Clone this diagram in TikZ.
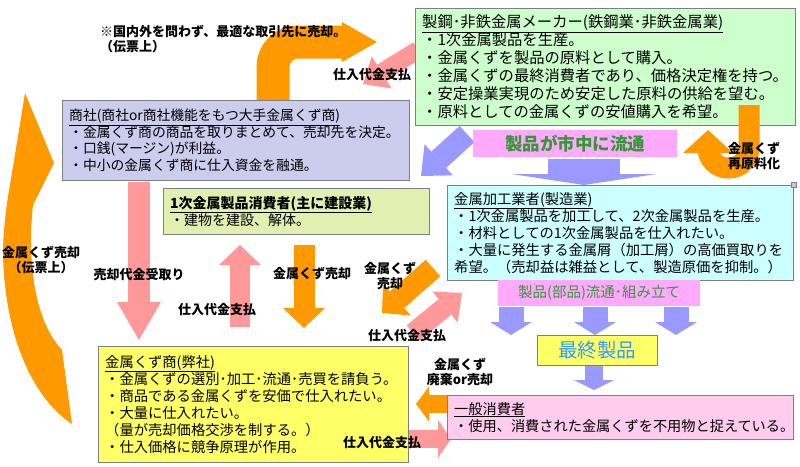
\documentclass[tikz,border=0pt]{standalone}
\usepackage{fontspec}
\setmainfont{Noto Sans CJK JP}
\usetikzlibrary{arrows.meta}

\definecolor{orng}{HTML}{FF9900}
\definecolor{pinkarr}{HTML}{FF9999}
\definecolor{lavarr}{HTML}{9999FF}
\definecolor{makerfill}{HTML}{CCFFCC}
\definecolor{shoshafill}{HTML}{CCCCEE}
\definecolor{kenfill}{HTML}{E2EFB0}
\definecolor{kakofill}{HTML}{CCFFFF}
\definecolor{yelfill}{HTML}{FFFF66}
\definecolor{ippanfill}{HTML}{FFCCEE}
\definecolor{bandfill}{HTML}{FFAAFF}
\definecolor{bandtext}{HTML}{339933}
\definecolor{bluetext}{HTML}{3399FF}
\definecolor{boxline}{HTML}{7F7F7F}

\tikzset{
  box/.style={draw=boxline, anchor=north west, align=left, inner xsep=7pt, inner ysep=2pt},
  band/.style={fill=bandfill, anchor=north west, inner sep=0pt, text=bandtext},
  lbl/.style={font=\bfseries\fontsize{13}{15}\selectfont, align=center, inner sep=0pt},
  blk/.style n args={3}{line width=#1, -{Triangle[width=#2,length=#3,line width=0pt]}},
}

\begin{document}
\begin{tikzpicture}[x=1pt,y=-1pt]
\useasboundingbox (0,0) rectangle (800,466);

% arrow ends
\coordinate (a1s) at (273,100);
\coordinate (a1e) at (377,42);
\coordinate (a2s) at (418,50);
\coordinate (a2e) at (363,84);
\coordinate (a3s) at (467,134);
\coordinate (a3e) at (421,176);
\coordinate (a4s) at (584,159);
\coordinate (a4e) at (584,185);
\coordinate (a7s) at (139,182);
\coordinate (a7e) at (139,340);
\coordinate (a8s) at (240,327);
\coordinate (a8e) at (240,245);
\coordinate (a9s) at (304,245);
\coordinate (a9e) at (304,328);
\coordinate (a10s) at (433,268);
\coordinate (a10e) at (382,313);
\coordinate (a11s) at (413,333);
\coordinate (a11e) at (462,293);
\coordinate (a13s) at (594,366);
\coordinate (a13e) at (594,390);
\coordinate (a14s) at (448,404);
\coordinate (a14e) at (416,404);
\coordinate (a15s) at (409,439);
\coordinate (a15e) at (451,439);

% big curved arrow on the left
\fill[orng] (25,93) -- (54,163) -- (33,205) .. controls (27,260) and (34,320) .. (62,350)
  -- (72,424) .. controls (35,400) and (5,340) .. (3,255)
  .. controls (3,225) and (8,195) .. (13,167) -- cycle;

\draw[orng, blk={33pt}{40pt}{35pt}, rounded corners=25pt] (a1s) |- (a1e);
\draw[pinkarr, blk={18pt}{38pt}{22pt}] (a2s) -- (a2e);
\draw[lavarr, blk={22pt}{42pt}{24pt}] (a3s) -- (a3e);
\draw[lavarr, blk={72pt}{145pt}{11pt}] (a4s) -- (a4e);
\draw[pinkarr, blk={22pt}{44pt}{38pt}] (a7s) -- (a7e);
\draw[pinkarr, blk={20pt}{42pt}{20pt}] (a8s) -- (a8e);
\draw[orng, blk={21pt}{42pt}{20pt}] (a9s) -- (a9e);
\draw[orng, blk={22pt}{42pt}{20pt}] (a10s) -- (a10e);
\draw[pinkarr, blk={20pt}{40pt}{22pt}] (a11s) -- (a11e);
\foreach \x [count=\i] in {511,595,676} {
  \coordinate (d\i) at (\x,307);
  \draw[lavarr, blk={25pt}{42pt}{13pt}] (d\i) -- ++(0,28);
}
\draw[lavarr, blk={18pt}{40pt}{10pt}] (a13s) -- (a13e);
\draw[orng, blk={18pt}{35pt}{13pt}] (a14s) -- (a14e);
\draw[pinkarr, blk={18pt}{38pt}{13pt}] (a15s) -- (a15e);

% boxes
\node[box, fill=makerfill, text width=366pt, minimum height=117pt, font=\fontsize{15.3}{18}\selectfont] (maker) at (415,8) {\underline{製鋼･非鉄金属メーカー(鉄鋼業･非鉄金属業)}\\
・1次金属製品を生産。\\
・金属くずを製品の原料として購入。\\
・金属くずの最終消費者であり、価格決定権を持つ。\\
・安定操業実現のため安定した原料の供給を望む。\\
・原料としての金属くずの安値購入を希望。};

\node[box, fill=shoshafill, text width=333pt, minimum height=80pt, font=\fontsize{13.8}{16.5}\selectfont] (shosha) at (62,100) {\underline{商社(商社or商社機能をもつ大手金属くず商)}\\
・金属くず商の商品を取りまとめて、売却先を決定。\\
・口銭(マージン)が利益。\\
・中小の金属くず商に仕入資金を融通。};

\node[box, fill=kenfill, text width=252pt, minimum height=46pt, font=\fontsize{14}{17}\selectfont] (ken) at (163,188) {\underline{\textbf{1次金属製品消費者(主に建設業)}}\\
・建物を建設、解体。};

\node[box, fill=kakofill, text width=332pt, minimum height=95pt, font=\fontsize{14.3}{17}\selectfont] (kako) at (447,185) {\underline{金属加工業者(製造業)}\\
・1次金属製品を加工して、2次金属製品を生産。\\
・材料としての1次金属製品を仕入れたい。\\
・大量に発生する金属屑（加工屑）の高価買取りを\\
希望。（売却益は雑益として、製造原価を抑制。）};
\node[draw=boxline, fill=lavarr!60, minimum size=5pt, inner sep=0pt] (hdl) at (kako.north east) {};

\node[box, fill=yelfill, text width=296pt, minimum height=116pt, font=\fontsize{14.3}{17}\selectfont] (kuzu) at (98,346) {\underline{金属くず商(弊社)}\\
・金属くずの選別･加工･流通･売買を請負う。\\
・商品である金属くずを安価で仕入れたい。\\
・大量に仕入れたい。\\
（量が売却価格交渉を制する。）\\
・仕入価格に競争原理が作用。};

\node[box, fill=ippanfill, text width=332pt, minimum height=44pt, font=\fontsize{14.2}{17}\selectfont] (ippan) at (447,395) {\underline{一般消費者}\\
・使用、消費された金属くずを不用物と捉えている。};

\node[band, minimum width=204pt, minimum height=27pt, font=\bfseries\fontsize{17.5}{20}\selectfont] (band1) at (473,130) {製品が市中に流通};
\node[band, minimum width=202pt, minimum height=26pt, font=\fontsize{14.5}{17}\selectfont] (band2) at (498,280) {製品(部品)流通･組み立て};
\node[draw=boxline, fill=yelfill, anchor=north west, minimum width=120pt, minimum height=30pt, inner sep=0pt, text=bluetext, font=\fontsize{19.5}{22}\selectfont] (saishu) at (537,335) {最終製品};

% U-turn arrow on the right
\draw[orng, blk={21pt}{50pt}{23pt}, rounded corners=20pt] (749,105) -- (749,168) -- (708,168) -- (708,130);

% labels
\node[lbl, anchor=north west, align=left] (note) at (100,25) {※国内外を問わず、最適な取引先に売却。\\（伝票上）};
\node[lbl] (l2) at (372,75) {仕入代金支払};
\node[lbl] (l3) at (754,156) {金属くず\\再原料化};
\node[lbl] (l4) at (41,260) {金属くず売却\\（伝票上）};
\node[lbl] (l5) at (139,275) {売却代金受取り};
\node[lbl] (l6) at (217,310) {仕入代金支払};
\node[lbl] (l7) at (312,274) {金属くず売却};
\node[lbl] (l8) at (390,276) {金属くず\\売却};
\node[lbl] (l9) at (407,336) {仕入代金支払};
\node[lbl] (l10) at (460,372) {金属くず\\廃棄or売却};
\node[lbl] (l11) at (382,443) {仕入代金支払};
\end{tikzpicture}
\end{document}
